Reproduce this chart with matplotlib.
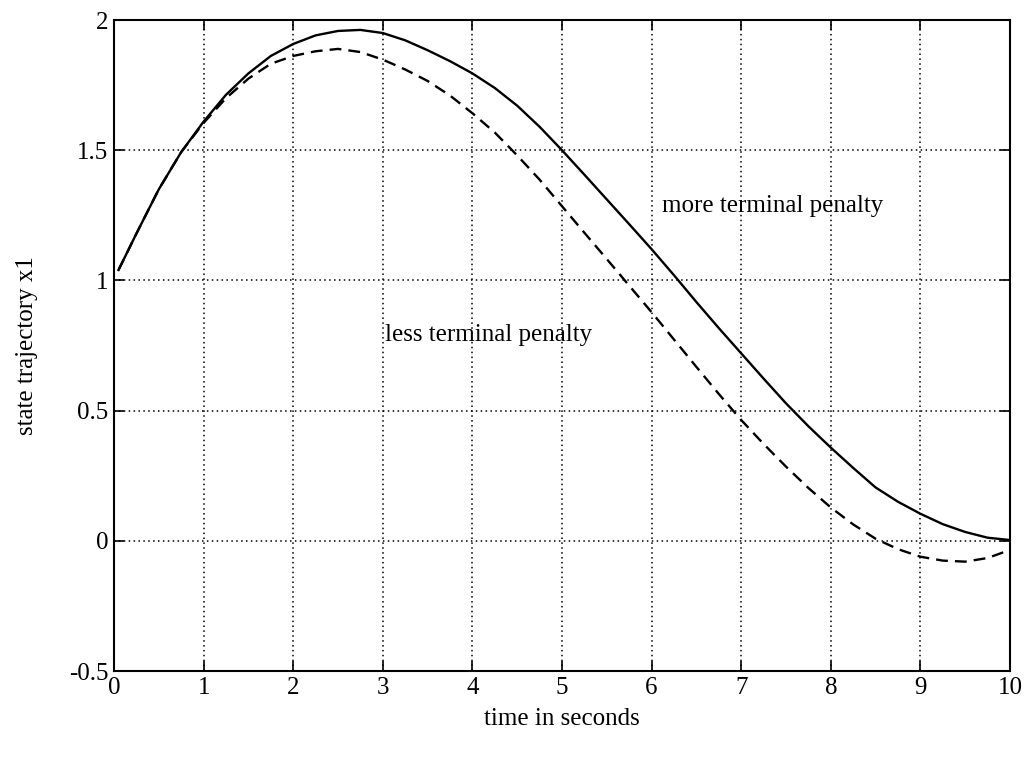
import matplotlib
matplotlib.use("Agg")
import matplotlib.pyplot as plt

t = [0.05, 0.25, 0.5, 0.75, 1.0, 1.25, 1.5, 1.75, 2.0, 2.25, 2.5, 2.75, 3.0, 3.25,
     3.5, 3.75, 4.0, 4.25, 4.5, 4.75, 5.0, 5.25, 5.5, 5.75, 6.0, 6.25, 6.5, 6.75,
     7.0, 7.25, 7.5, 7.75, 8.0, 8.25, 8.5, 8.75, 9.0, 9.25, 9.5, 9.75, 10.0]
x1_more = [1.04, 1.18, 1.35, 1.493, 1.61, 1.713, 1.795, 1.862, 1.908, 1.941, 1.958,
           1.962, 1.950, 1.922, 1.884, 1.842, 1.795, 1.739, 1.671, 1.59, 1.50, 1.406,
           1.311, 1.216, 1.12, 1.02, 0.917, 0.817, 0.72, 0.623, 0.528, 0.44, 0.358,
           0.28, 0.205, 0.15, 0.104, 0.064, 0.034, 0.012, 0.003]
x1_less = [1.04, 1.18, 1.35, 1.493, 1.605, 1.70, 1.775, 1.832, 1.862, 1.88, 1.889,
           1.877, 1.848, 1.81, 1.766, 1.71, 1.642, 1.568, 1.48, 1.387, 1.285, 1.183,
           1.082, 0.98, 0.878, 0.773, 0.668, 0.564, 0.464, 0.372, 0.285, 0.203, 0.128,
           0.063, 0.008, -0.032, -0.061, -0.076, -0.080, -0.066, -0.035]
xticks = [0, 1, 2, 3, 4, 5, 6, 7, 8, 9, 10]
yticks = [-0.5, 0, 0.5, 1, 1.5, 2]
ytick_labels = ["-0.5", "0", "0.5", "1", "1.5", "2"]

plt.rcParams['font.family'] = ['Liberation Serif', 'DejaVu Serif']

fig = plt.figure(figsize=(10.31, 7.64), dpi=100)
ax = fig.add_axes([0.1106, 0.1217, 0.8690, 0.8521])

ax.plot(t, x1_more, color='black', lw=1.7, solid_joinstyle='round')
ax.plot(t, x1_less, color='black', lw=1.7, linestyle=(0, (5, 3)))

ax.set_xlim(0, 10)
ax.set_ylim(-0.5, 2)
ax.set_xticks(xticks)
ax.set_xticklabels([str(v) for v in xticks])
ax.set_yticks(yticks)
ax.set_yticklabels(ytick_labels)
ax.grid(True, color='black', linestyle=(0, (1, 2.2)), linewidth=1.1)
ax.tick_params(direction='in', top=True, right=True, length=7, width=1.2,
               labelsize=18, pad=4)
for s in ax.spines.values():
    s.set_linewidth(1.5)

ax.text(6.12, 1.285, "more terminal penalty", fontsize=18, va='center', ha='left')
ax.text(3.02, 0.79, "less terminal penalty", fontsize=18, va='center', ha='left')

ax.set_xlabel("time in seconds", fontsize=18, labelpad=7)
ax.set_ylabel("state trajectory x1", fontsize=18, labelpad=22)

fig.savefig("out.png", dpi=100)
